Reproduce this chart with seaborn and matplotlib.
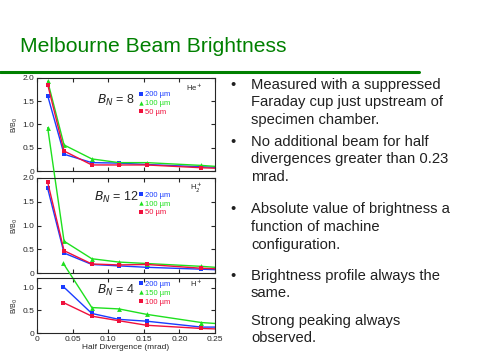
import matplotlib
matplotlib.use("Agg")
import matplotlib.pyplot as plt
import seaborn as sns
from matplotlib.transforms import Bbox, TransformedBbox

# half divergence (mrad); last value is the line end at the right edge
x_div = [0.015, 0.038, 0.077, 0.115, 0.154, 0.231, 0.25]
x_div3 = [0.037, 0.077, 0.115, 0.154, 0.231, 0.25]

# panel 1: He+, B_N = 8
he_200 = [1.62, 0.36, 0.18, 0.17, 0.14, 0.09, 0.08]
he_100 = [1.93, 0.56, 0.26, 0.18, 0.18, 0.12, 0.10]
he_50 = [1.86, 0.43, 0.13, 0.13, 0.13, 0.07, 0.06]

# panel 2: H2+, B_N = 12
h2_200 = [1.78, 0.42, 0.18, 0.15, 0.12, 0.08, 0.07]
h2_100 = [3.06, 0.67, 0.30, 0.23, 0.20, 0.14, 0.12]
h2_50 = [1.91, 0.47, 0.19, 0.17, 0.18, 0.10, 0.09]

# panel 3: H+, B_N = 4
h_200 = [1.02, 0.43, 0.30, 0.26, 0.13, 0.13]
h_150 = [1.53, 0.56, 0.53, 0.41, 0.23, 0.21]
h_100 = [0.67, 0.37, 0.27, 0.17, 0.10, 0.09]

labels_12 = ["200 µm", "100 µm", "50 µm"]
labels_3 = ["200 µm", "150 µm", "100 µm"]
x_ticks = [0, 0.05, 0.10, 0.15, 0.20, 0.25]
x_ticklabels = ["0", "0.05", "0.10", "0.15", "0.20", "0.25"]

bullets = [
    ["Measured with a suppressed", "Faraday cup just upstream of", "specimen chamber."],
    ["No additional beam for half", "divergences greater than 0.23", "mrad."],
    ["Absolute value of brightness a", "function of machine", "configuration."],
    ["Brightness profile always the", "same."],
    ["Strong peaking always", "observed."],
]

BLUE = "#1a3cff"
GREEN = "#1ee01e"
RED = "#f0103c"
DKGREEN = "#008000"

sns.set_style("ticks")
plt.rcParams['font.family'] = ['Liberation Sans', 'DejaVu Sans']

fig = plt.figure(figsize=(4.8, 3.6), dpi=100)
fig.patch.set_facecolor("white")

# title and rule
fig.text(20 / 480, 1 - 46 / 360, "Melbourne Beam Brightness", color=DKGREEN,
         fontsize=15.2, va="center", ha="left")
fig.add_artist(plt.Line2D([0, 419 / 480], [1 - 71.5 / 360] * 2, color=DKGREEN, lw=2.2))

# right-hand bullet text
line_y = [[85, 102, 120], [142, 159, 177], [209, 227, 245], [276, 293], [321, 338]]
for i, (lines, ys) in enumerate(zip(bullets, line_y)):
    if i < 4:
        fig.text(233 / 480, 1 - ys[0] / 360, "•", fontsize=10.5, color="#202020",
                 va="center", ha="center")
    for txt, y in zip(lines, ys):
        fig.text(251 / 480, 1 - y / 360, txt, fontsize=10.6, color="#202020",
                 va="center", ha="left")

left, width = 37 / 480, 178 / 480
panels = [
    dict(rect=[left, 1 - 171 / 360, width, 93 / 360], xs=x_div,
         series=[he_200, he_100, he_50], labels=labels_12, ylim=2.0,
         bn="$B_N$ = 8", bnpos=(0.084, 1.52), ion="He$^+$",
         legpos=(0.575, 0.86)),
    dict(rect=[left, 1 - 273 / 360, width, 95 / 360], xs=x_div,
         series=[h2_200, h2_100, h2_50], labels=labels_12, ylim=2.0,
         bn="$B_N$ = 12", bnpos=(0.08, 1.6), ion="H$_2^+$",
         legpos=(0.575, 0.86)),
    dict(rect=[left, 1 - 333 / 360, width, 55 / 360], xs=x_div3,
         series=[h_200, h_150, h_100], labels=labels_3, ylim=1.21,
         bn="$B_N$ = 4", bnpos=(0.084, 0.93), ion="H$^+$",
         legpos=(0.575, 0.95)),
]

colors = [BLUE, GREEN, RED]
markers = ["s", "^", "s"]

for k, p in enumerate(panels):
    ax = fig.add_axes(p["rect"])
    ax.set_facecolor("white")
    n = len(p["xs"]) - 1
    for ys, c, m, lab in zip(p["series"], colors, markers, p["labels"]):
        sns.lineplot(x=p["xs"], y=ys, ax=ax, color=c, marker=m, markersize=3.5,
                     markeredgewidth=0, linewidth=1, markevery=list(range(n)),
                     label=lab, sort=False, estimator=None)
        if ys is h2_100 or ys is h_150:
            ln = ax.lines[-1]
            ln.set_clip_box(TransformedBbox(Bbox.from_extents(0, 0, 1, 4), ax.transAxes))
    ax.set_xlim(0, 0.25)
    ax.set_ylim(0, p["ylim"])
    ax.set_xticks(x_ticks)
    if k == 2:
        ax.set_yticks([0, 0.5, 1.0])
        ax.set_yticklabels(["0", "0.5", "1.0"])
        ax.set_xticklabels(x_ticklabels)
        ax.set_xlabel("Half Divergence (mrad)", fontsize=6, labelpad=1)
    else:
        ax.set_yticks([0, 0.5, 1.0, 1.5, 2.0])
        ax.set_yticklabels(["0", "0.5", "1.0", "1.5", "2.0"])
        ax.set_xticklabels([])
    ax.tick_params(direction="in", top=True, right=True, length=3, width=0.8,
                   labelsize=6, pad=2)
    for s in ax.spines.values():
        s.set_linewidth(0.8)
    ax.set_ylabel("B/B$_0$", fontsize=5, labelpad=2)
    ax.text(*p["bnpos"], p["bn"], fontsize=9, va="center", ha="left")
    ax.text(0.93, 0.9, p["ion"], transform=ax.transAxes, fontsize=5.5,
            va="center", ha="right")
    leg = ax.legend(loc="upper left", bbox_to_anchor=p["legpos"], frameon=False,
                    handlelength=0.4, handletextpad=0.3, labelspacing=0.2,
                    borderpad=0, borderaxespad=0, fontsize=5.5, numpoints=1,
                    markerscale=0.9, labelcolor="linecolor")
    for h in leg.legend_handles:
        h.set_linestyle("none")

fig.savefig("out.png", dpi=100)
